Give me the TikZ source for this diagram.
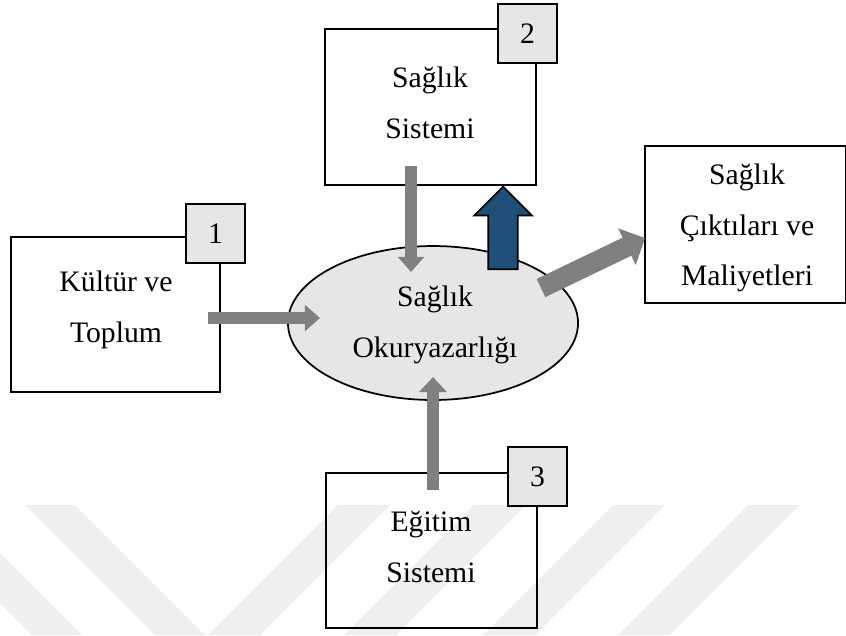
\documentclass[tikz,border=0pt]{standalone}
\usepackage{fontspec}
\setmainfont{Liberation Serif}
\usetikzlibrary{arrows.meta,calc,positioning,shapes.geometric,shapes.arrows}
\definecolor{koyumavi}{HTML}{1F4E79}
\definecolor{okgri}{HTML}{808080}
\definecolor{zemin}{HTML}{E6E6E6}
\definecolor{filigran}{HTML}{EFEFEF}

\begin{document}
\begin{tikzpicture}[x=0.404pt,y=-0.404pt,font=\fontsize{12}{20.4}\selectfont,>=Latex,
  kutu/.style={draw,line width=.7pt,inner sep=0pt,minimum width=85pt,minimum height=62.8pt},
  numara/.style={draw,fill=zemin,line width=.7pt,minimum size=23.8pt,inner sep=0pt},
  yazi/.style={align=center,inner sep=0pt},
  akis/.style={okgri,line width=4.85pt,-{Triangle[width=10.3pt,length=6.1pt]}}]
 \useasboundingbox (0,0) rectangle (846,635);
 % filigran
 \begin{scope}
  \clip (0,0) rectangle (846,635);
  \fill[filigran] (25,505)--(75,505)--(205,635)--(155,635)--cycle;
  \fill[filigran] (-98,505)--(-48,505)--(82,635)--(32,635)--cycle;
  \foreach \x in {338,474,613,748}
    \fill[filigran] (\x,505)--(\x+52,505)--(\x-78,635)--(\x-130,635)--cycle;
 \end{scope}
 % kutular
 \node[kutu,minimum width=84.4pt] (kultur) at (115.5,314.5) {};
 \node[kutu] (sistem) at (430.5,107) {};
 \node[kutu] (egitim) at (431.5,550.5) {};
 \node[kutu,minimum width=81.2pt,minimum height=63.4pt] (cikti) at (745.5,224.5) {};
 \node[draw,fill=zemin,ellipse,line width=.7pt,minimum width=117.2pt,
    minimum height=62.2pt] (okur) at (433,323) {};
 \node[numara] (n1) at (215.5,233.5) {1};
 \node[numara] (n2) at (527.5,33.5) {2};
 \node[numara] (n3) at (537.5,476.5) {3};
 \node[yazi] (t1) at (116,310) {Kültür ve\\Toplum};
 \node[yazi] (t2) at (430,103) {Sağlık\\Sistemi};
 \node[yazi] (t3) at (431,547) {Eğitim\\Sistemi};
 \node[yazi] (t4) at (747,228) {Sağlık\\Çıktıları ve\\Maliyetleri};
 \node[yazi] (t0) at (435,325) {Sağlık\\Okuryazarlığı};
 % oklar
 \coordinate (k-cik) at (208,318);
 \coordinate (o-sol) at (320,318);
 \coordinate (s-cik) at (411,166);
 \coordinate (o-ust) at (411,272);
 \coordinate (e-cik) at (433,490);
 \coordinate (o-alt) at (433,377);
 \coordinate (o-sag) at (541,288);
 \coordinate (c-gir) at (645,238);
 \coordinate (g-alt) at (503,270);
 \draw[akis] (k-cik) -- (o-sol);
 \draw[akis] (s-cik) -- (o-ust);
 \draw[akis,-{Triangle[width=10.9pt,length=6.1pt]}] (e-cik) -- (o-alt);
 \draw[akis,line width=8.1pt,-{Triangle[width=16pt,length=8.1pt]}] (o-sag) -- (c-gir);
 \node[single arrow,shape border rotate=90,draw=black,fill=koyumavi,line width=.7pt,
    minimum height=33.3pt,minimum width=22.6pt,single arrow head extend=5.66pt,
    inner xsep=5.65pt,inner ysep=0pt,anchor=tail] (geri) at (g-alt) {};
\end{tikzpicture}
\end{document}
